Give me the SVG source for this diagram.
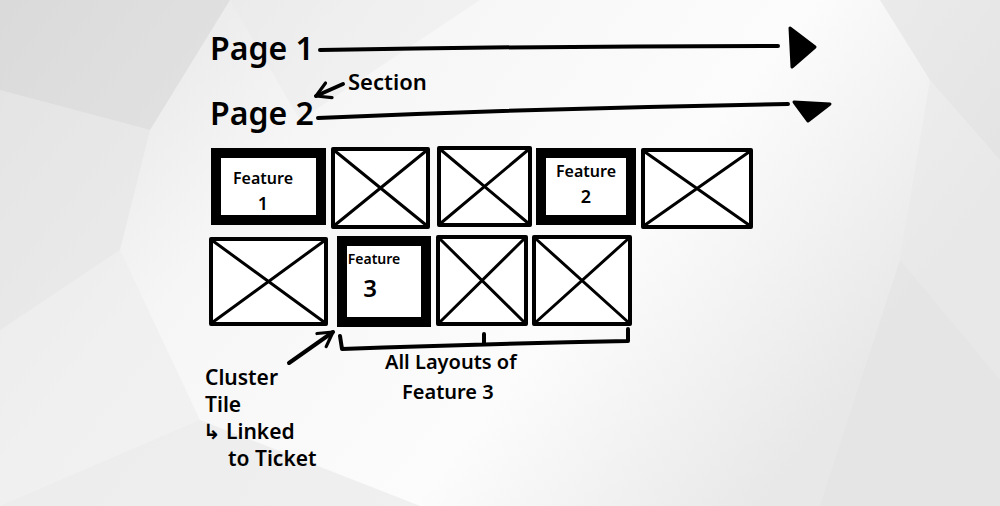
<svg xmlns="http://www.w3.org/2000/svg" width="1000" height="506" viewBox="0 0 1000 506">
<defs>
<linearGradient id="bg" x1="0" y1="0" x2="1" y2="0.4">
<stop offset="0" stop-color="#e0e0e0"/>
<stop offset="0.35" stop-color="#f6f6f6"/>
<stop offset="0.7" stop-color="#fcfcfc"/>
<stop offset="1" stop-color="#e8e8e8"/>
</linearGradient>
<marker id="ah" viewBox="0 0 10 10" refX="8" refY="5" markerWidth="5" markerHeight="5" orient="auto" markerUnits="strokeWidth">
<path d="M1,1 L8,5 L1,9" fill="none" stroke="#000" stroke-width="1.6" stroke-linecap="round" stroke-linejoin="round"/>
</marker>
</defs>
<style>
.hand{font-family:"Noto Sans","DejaVu Sans",sans-serif;fill:#000;font-weight:600}
.ln{fill:none;stroke:#000;stroke-width:4;stroke-linecap:round;stroke-linejoin:round}
.tile{fill:#fff;stroke:#000;stroke-width:4;stroke-linejoin:round}
.feat{fill:#fff;stroke:#000;stroke-width:10;stroke-linejoin:miter}
.x{fill:none;stroke:#000;stroke-width:3;stroke-linecap:round}
.poly{stroke:none}
</style>
<rect width="1000" height="506" fill="url(#bg)"/>
<g id="background-facets">
<polygon class="poly" points="0,0 230,0 150,130 0,90" fill="#d6d6d6" opacity="0.55"/>
<polygon class="poly" points="150,130 0,90 0,330 120,250" fill="#e4e4e4" opacity="0.6"/>
<polygon class="poly" points="230,0 480,0 300,120" fill="#e9e9e9" opacity="0.4"/>
<polygon class="poly" points="0,330 120,250 200,420 0,506" fill="#ececec" opacity="0.6"/>
<polygon class="poly" points="200,420 0,506 420,506" fill="#e3e3e3" opacity="0.5"/>
<polygon class="poly" points="880,0 1000,0 1000,160 930,80" fill="#dedede" opacity="0.5"/>
<polygon class="poly" points="930,80 1000,160 1000,380 900,260" fill="#e8e8e8" opacity="0.5"/>
<polygon class="poly" points="900,260 1000,380 1000,506 820,506" fill="#e2e2e2" opacity="0.5"/>
</g>

<g id="page1">
<text class="hand" x="210" y="60" font-size="32">Page 1</text>
<path class="ln" d="M320,50 Q550,46 778,46"/>
<path d="M790,28 L815,47 L792,67 Z" fill="#000" stroke="#000" stroke-width="3" stroke-linejoin="round"/>
</g>
<g id="page2">
<text class="hand" x="210" y="125" font-size="32">Page 2</text>
<path class="ln" d="M318,118 Q550,108 788,104"/>
<path d="M794,102 L830,104 L808,121 Z" fill="#000" stroke="#000" stroke-width="3" stroke-linejoin="round"/>
</g>
<g id="section">
<text class="hand" x="348" y="90" font-size="22">Section</text>
</g>

<g id="tile-feature1">
<rect class="feat" x="216" y="153" width="105" height="67"/>
<text class="hand" x="263" y="184" font-size="16" text-anchor="middle">Feature</text>
<text class="hand" x="263" y="210" font-size="18" text-anchor="middle">1</text>
</g>
<g id="tile2">
<rect class="tile" x="333" y="149" width="95" height="78"/>
<path class="x" d="M335,151 L426,225 M426,151 L335,225"/>
</g>
<g id="tile3">
<rect class="tile" x="439" y="148" width="91" height="77"/>
<path class="x" d="M441,150 L528,223 M528,150 L441,223"/>
</g>
<g id="tile-feature2">
<rect class="feat" x="541" y="153" width="90" height="67"/>
<text class="hand" x="586" y="177" font-size="16" text-anchor="middle">Feature</text>
<text class="hand" x="586" y="203" font-size="18" text-anchor="middle">2</text>
</g>
<g id="tile5">
<rect class="tile" x="643" y="150" width="108" height="77"/>
<path class="x" d="M645,152 L749,225 M749,152 L645,225"/>
</g>

<g id="tile6">
<rect class="tile" x="211" y="239" width="115" height="85"/>
<path class="x" d="M213,241 L324,322 M324,241 L213,322"/>
</g>
<g id="tile-feature3">
<rect class="feat" x="342" y="241" width="84" height="81"/>
<text class="hand" x="374" y="264" font-size="14" text-anchor="middle">Feature</text>
<text class="hand" x="370" y="297" font-size="24" text-anchor="middle">3</text>
</g>
<g id="tile8">
<rect class="tile" x="438" y="237" width="88" height="87"/>
<path class="x" d="M440,239 L524,322 M524,239 L440,322"/>
</g>
<g id="tile9">
<rect class="tile" x="534" y="237" width="96" height="87"/>
<path class="x" d="M536,239 L628,322 M628,239 L536,322"/>
</g>

<g id="connectors">
<path class="ln" d="M343,84 L316,96" marker-end="url(#ah)" stroke-width="3"/>
<path class="ln" d="M289,363 L333,332" marker-end="url(#ah)" stroke-width="3.5"/>
<path class="ln" d="M340,336 L342,349 Q480,344 628,341 L628,329 M484,343 L484,334" stroke-width="3.5"/>
</g>

<g id="label-cluster">
<text class="hand" font-size="21"><tspan x="205" y="385">Cluster</tspan><tspan x="205" y="412">Tile</tspan><tspan x="203" y="439">↳ Linked</tspan><tspan x="228" y="466">to Ticket</tspan></text>
</g>
<g id="label-layouts">
<text class="hand" font-size="20"><tspan x="385" y="369">All Layouts of</tspan><tspan x="402" y="399">Feature 3</tspan></text>
</g>
</svg>
